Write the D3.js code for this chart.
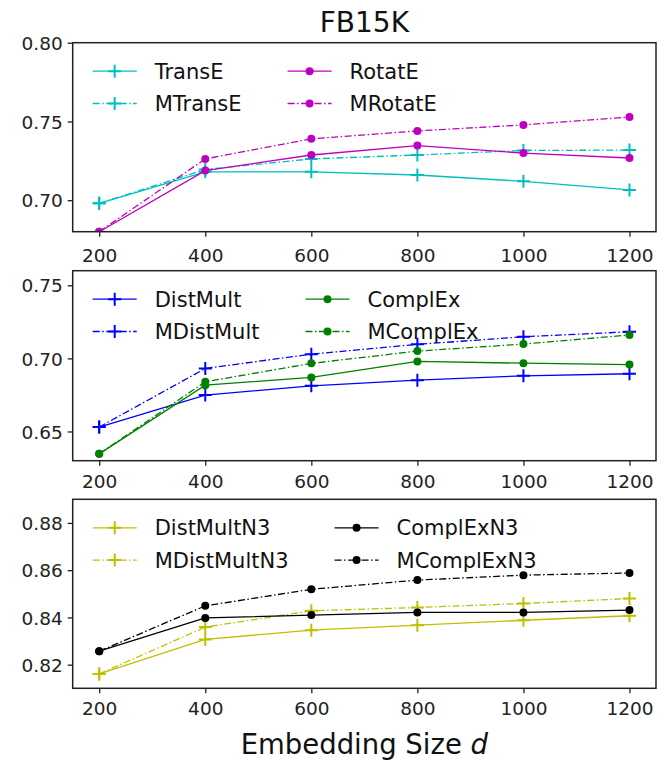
<!DOCTYPE html>
<html>
<head>
<meta charset="utf-8">
<script src="https://cdn.jsdelivr.net/npm/d3@7"></script>
<style>
  body { margin: 0; background: #fff; }
  text { font-family: "DejaVu Sans", sans-serif; }
</style>
</head>
<body>
<svg id="chart" width="658" height="764"></svg>
<script>
// embedding sizes (x axis)
const sizes = [200, 400, 600, 800, 1000, 1200]

// panel 1
const transE  = [0.698, 0.718, 0.718, 0.716, 0.712, 0.7065]
const mTransE = [0.698, 0.7195, 0.7262, 0.7287, 0.7316, 0.7318]
const rotatE  = [0.680, 0.7188, 0.7287, 0.7347, 0.7299, 0.7268]
const mRotatE = [0.680, 0.7262, 0.739, 0.744, 0.7478, 0.7528]
// panel 2
const distMult  = [0.653, 0.6749, 0.6812, 0.6851, 0.6881, 0.6895]
const mDistMult = [0.653, 0.6931, 0.7029, 0.7096, 0.7148, 0.7182]
const complEx   = [0.6347, 0.6817, 0.687, 0.6979, 0.6967, 0.6958]
const mComplEx  = [0.6347, 0.684, 0.6966, 0.705, 0.7098, 0.716]
// panel 3
const distMultN3  = [0.8161, 0.8307, 0.8346, 0.8367, 0.8388, 0.8407]
const mDistMultN3 = [0.8161, 0.8359, 0.8428, 0.8442, 0.8459, 0.848]
const complExN3   = [0.8257, 0.8398, 0.841, 0.8421, 0.8421, 0.8431]
const mComplExN3  = [0.8257, 0.8449, 0.8519, 0.8558, 0.8579, 0.8588]

const yTicks1 = [0.70, 0.75, 0.80]
const yTicks2 = [0.65, 0.70, 0.75]
const yTicks3 = [0.82, 0.84, 0.86, 0.88]

const DASHDOT = '7,2.5,1.5,2.5'

const panels = [
  { top: 42.7, bottom: 231.7, yDomain: [0.68, 0.80], yTicks: yTicks1, labelGap: 30,
    series: [
      { name: 'TransE', values: transE, color: '#00bfbf', marker: 'plus', dash: null },
      { name: 'MTransE', values: mTransE, color: '#00bfbf', marker: 'plus', dash: DASHDOT },
      { name: 'RotatE', values: rotatE, color: '#bf00bf', marker: 'dot', dash: null },
      { name: 'MRotatE', values: mRotatE, color: '#bf00bf', marker: 'dot', dash: DASHDOT }
    ] },
  { top: 270.7, bottom: 460.7, yDomain: [0.63, 0.76], yTicks: yTicks2, labelGap: 27,
    series: [
      { name: 'DistMult', values: distMult, color: '#0000ff', marker: 'plus', dash: null },
      { name: 'MDistMult', values: mDistMult, color: '#0000ff', marker: 'plus', dash: DASHDOT },
      { name: 'ComplEx', values: complEx, color: '#008000', marker: 'dot', dash: null },
      { name: 'MComplEx', values: mComplEx, color: '#008000', marker: 'dot', dash: DASHDOT }
    ] },
  { top: 499.3, bottom: 688.3, yDomain: [0.81, 0.89], yTicks: yTicks3, labelGap: 27,
    series: [
      { name: 'DistMultN3', values: distMultN3, color: '#bfbf00', marker: 'plus', dash: null },
      { name: 'MDistMultN3', values: mDistMultN3, color: '#bfbf00', marker: 'plus', dash: DASHDOT },
      { name: 'ComplExN3', values: complExN3, color: '#000000', marker: 'dot', dash: null },
      { name: 'MComplExN3', values: mComplExN3, color: '#000000', marker: 'dot', dash: DASHDOT }
    ] }
]

const left = 72.7, right = 656
const svg = d3.select('#chart')
const x = d3.scaleLinear().domain([150, 1250]).range([left, right])

function drawMarker(g, type, cx, cy, color) {
  if (type === 'plus') {
    g.append('path')
      .attr('d', `M${cx - 6.5},${cy}H${cx + 6.5}M${cx},${cy - 6.5}V${cy + 6.5}`)
      .attr('stroke', color).attr('stroke-width', 2).attr('fill', 'none')
  } else {
    g.append('circle').attr('cx', cx).attr('cy', cy).attr('r', 4).attr('fill', color)
  }
}

panels.forEach((p, i) => {
  const y = d3.scaleLinear().domain(p.yDomain).range([p.bottom, p.top])
  const g = svg.append('g')

  g.append('clipPath').attr('id', 'clip' + i)
    .append('rect').attr('x', left).attr('y', p.top)
    .attr('width', right - left).attr('height', p.bottom - p.top)

  // axes
  const xAxis = g.append('g').attr('transform', `translate(0,${p.bottom})`)
    .call(d3.axisBottom(x).tickValues(sizes).tickSize(5).tickPadding(6).tickFormat(d3.format('d')))
  const yAxis = g.append('g').attr('transform', `translate(${left},0)`)
    .call(d3.axisLeft(y).tickValues(p.yTicks).tickSize(5).tickPadding(5).tickFormat(d3.format('.2f')))
  ;[xAxis, yAxis].forEach(a => {
    a.select('.domain').remove()
    a.selectAll('line').attr('stroke', '#222').attr('stroke-width', 1.3)
    a.selectAll('text').attr('fill', '#222').attr('font-size', 18.5)
      .attr('font-family', '"DejaVu Sans", sans-serif')
  })
  xAxis.selectAll('text').attr('dy', null).attr('y', p.labelGap)
  yAxis.selectAll('text').attr('dy', '0.36em')

  const plot = g.append('g').attr('clip-path', `url(#clip${i})`)
  const line = d3.line().x((d, j) => x(sizes[j])).y(d => y(d))
  p.series.forEach(s => {
    plot.append('path').datum(s.values)
      .attr('d', line)
      .attr('fill', 'none')
      .attr('stroke', s.color)
      .attr('stroke-width', 1.3)
      .attr('stroke-dasharray', s.dash)
    s.values.forEach((v, j) => drawMarker(plot, s.marker, x(sizes[j]), y(v), s.color))
  })

  // frame
  g.append('rect').attr('x', left).attr('y', p.top)
    .attr('width', right - left).attr('height', p.bottom - p.top)
    .attr('fill', 'none').attr('stroke', '#222').attr('stroke-width', 1.5)

  // legend: 2 columns, no frame
  const leg = g.append('g').attr('font-size', 21).attr('fill', '#111')
  const rows = [p.top + 28.5, p.top + 60.8]
  let colX = 92.7
  for (let c = 0; c < 2; c++) {
    const items = p.series.slice(c * 2, c * 2 + 2)
    let maxW = 0
    items.forEach((s, r) => {
      const ly = rows[r]
      leg.append('line').attr('x1', colX).attr('x2', colX + 44).attr('y1', ly).attr('y2', ly)
        .attr('stroke', s.color).attr('stroke-width', 1.3).attr('stroke-dasharray', s.dash)
      drawMarker(leg, s.marker, colX + 22, ly, s.color)
      const t = leg.append('text').attr('x', colX + 62).attr('y', ly).attr('dy', '0.36em')
        .text(s.name)
      maxW = Math.max(maxW, t.node().getComputedTextLength())
    })
    colX = colX + 62 + maxW + 46
  }
})

svg.append('text').attr('x', (left + right) / 2).attr('y', 31.7)
  .attr('text-anchor', 'middle').attr('font-size', 28).attr('fill', '#111')
  .text('FB15K')

const xl = svg.append('text').attr('x', (left + right) / 2).attr('y', 754)
  .attr('text-anchor', 'middle').attr('font-size', 27.5).attr('fill', '#111')
xl.append('tspan').text('Embedding Size ')
xl.append('tspan').attr('font-style', 'italic').text('d')
</script>
</body>
</html>
